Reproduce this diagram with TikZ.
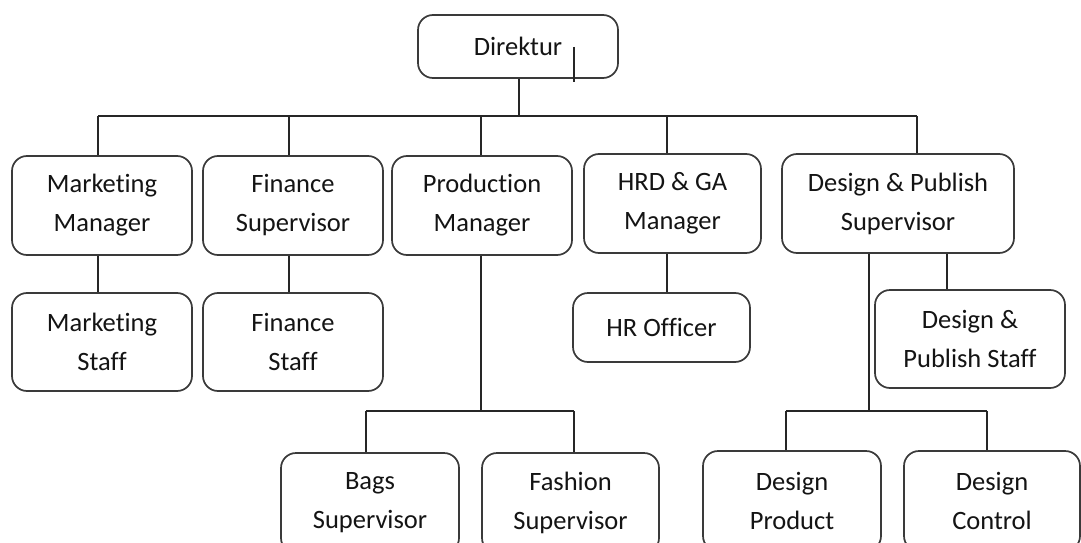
\documentclass[tikz,border=0pt]{standalone}
\usepackage{fontspec}
\setmainfont{Carlito}[Ligatures=NoCommon]
\definecolor{boxline}{HTML}{3A3A3A}
\definecolor{ink}{HTML}{141414}
\begin{document}
\begin{tikzpicture}[x=1pt,y=-1pt,
  unit/.style={draw=boxline, line width=1.7pt, rounded corners=15pt,
    align=center, text=ink, inner sep=0pt,
    font=\fontsize{26.5}{39}\selectfont},
  wire/.style={draw=black!85, line width=1.6pt}]
\useasboundingbox (0,0) rectangle (1081,543);
\clip (0,0) rectangle (1081,543);
\fill[white] (0,0) rectangle (1081,543);

% units
\node[unit, minimum width=200pt, minimum height=63pt] (dir) at (518,46.5) {Direktur};
\node[unit, minimum width=180pt, minimum height=99pt] (mm) at (102,205.5) {Marketing\\Manager};
\node[unit, minimum width=180pt, minimum height=99pt] (fs) at (293,205.5) {Finance\\Supervisor};
\node[unit, minimum width=180pt, minimum height=99pt] (pm) at (482,205.5) {Production\\Manager};
\node[unit, minimum width=177pt, minimum height=99pt] (hrd) at (672.5,203.5) {HRD \& GA\\Manager};
\node[unit, minimum width=232pt, minimum height=99pt] (dps) at (898,203.5) {Design \& Publish\\Supervisor};
\node[unit, minimum width=180pt, minimum height=98pt] (ms) at (102,342) {Marketing\\Staff};
\node[unit, minimum width=180pt, minimum height=98pt] (fst) at (293,342) {Finance\\Staff};
\node[unit, minimum width=177pt, minimum height=69pt] (hro) at (661.5,327.5) {HR Officer};
\node[unit, minimum width=190pt, minimum height=98pt] (dpst) at (970,339) {Design \&\\Publish Staff};
\node[unit, minimum width=178pt, minimum height=100pt] (bags) at (370,503) {Bags\\Supervisor};
\node[unit, minimum width=177pt, minimum height=100pt] (fash) at (570.5,503) {Fashion\\Supervisor};
\node[unit, minimum width=178pt, minimum height=100pt] (dprod) at (792,501) {Design\\Product};
\node[unit, minimum width=176pt, minimum height=100pt] (dctl) at (992,501) {Design\\Control};

% top-level bus
\coordinate (busL) at (98,116);
\coordinate (busR) at (917,116);
\coordinate (dDir) at (519,116);
\coordinate (dFS) at (289,116);
\coordinate (dPM) at (481,116);
\coordinate (dHRD) at (667,116);
\draw[wire] (dDir |- dir.south) -- (dDir);
\draw[wire] (busL) -- (busR);
\draw[wire] (busL) -- (busL |- mm.north);
\draw[wire] (dFS) -- (dFS |- fs.north);
\draw[wire] (dPM) -- (dPM |- pm.north);
\draw[wire] (dHRD) -- (dHRD |- hrd.north);
\draw[wire] (busR) -- (busR |- dps.north);

% stray tick beside the director label
\coordinate (tickA) at (574,47);
\coordinate (tickB) at (574,82);
\draw[wire] (tickA) -- (tickB);

% staff links
\draw[wire] (busL |- mm.south) -- (busL |- ms.north);
\draw[wire] (dFS |- fs.south) -- (dFS |- fst.north);
\draw[wire] (dHRD |- hrd.south) -- (dHRD |- hro.north);
\coordinate (dDPS) at (947,253);
\draw[wire] (dDPS |- dps.south) -- (dDPS |- dpst.north);

% production branch
\coordinate (pBus) at (481,411);
\coordinate (pL) at (366,411);
\coordinate (pR) at (574,411);
\draw[wire] (pBus |- pm.south) -- (pBus);
\draw[wire] (pL) -- (pR);
\draw[wire] (pL) -- (pL |- bags.north);
\draw[wire] (pR) -- (pR |- fash.north);

% design branch
\coordinate (dBus) at (869,411);
\coordinate (dL) at (786,411);
\coordinate (dR) at (987,411);
\draw[wire] (dBus |- dps.south) -- (dBus);
\draw[wire] (dL) -- (dR);
\draw[wire] (dL) -- (dL |- dprod.north);
\draw[wire] (dR) -- (dR |- dctl.north);
\end{tikzpicture}
\end{document}
